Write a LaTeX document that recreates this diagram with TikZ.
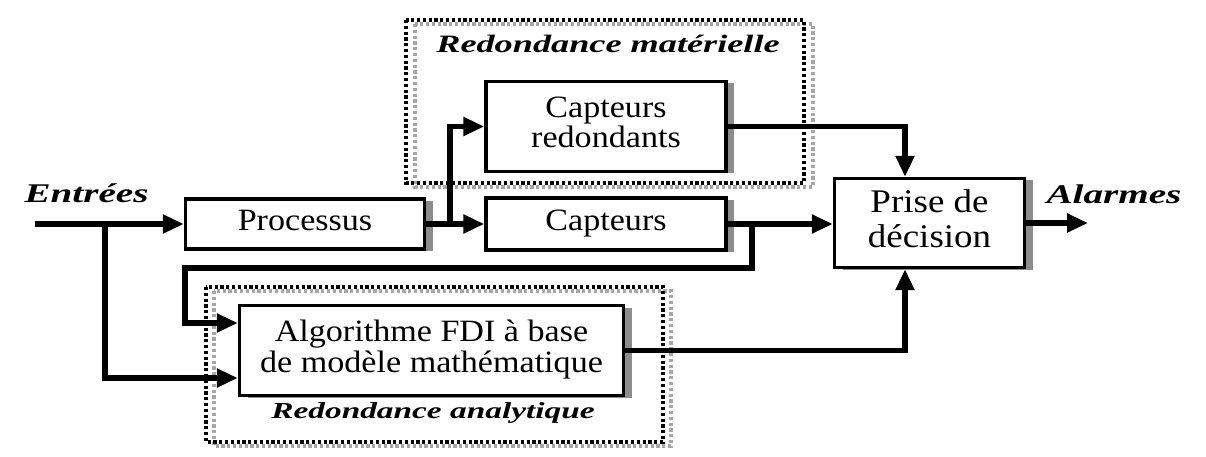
\documentclass[tikz,border=0pt]{standalone}
\usepackage{fontspec}
\setmainfont{Liberation Serif}
\usetikzlibrary{arrows.meta,shadows,calc}

% text inside the blocks (slightly widened serif)
\newcommand{\btxt}[2][30]{\fontsize{31}{#1}\selectfont\scalebox{1.1}[1]{\begin{tabular}{@{}c@{}}#2\end{tabular}}}
% bold italic, widened captions
\newcommand{\lbl}[2]{\fontsize{#1}{#1}\selectfont\bfseries\itshape\scalebox{1.45}[1]{#2}}

\tikzset{
  block/.style={draw, line width=3.4pt, fill=white, inner sep=0pt,
    drop shadow={shadow xshift=8pt, shadow yshift=-2pt, fill=black!45, opacity=1}},
  flow/.style={line width=5.5pt, line cap=butt, line join=miter,
    -{Triangle[length=21pt, width=18pt]}},
  groupbox/.style={line width=3.2pt, dash pattern=on 3.2pt off 2.6pt},
  groupshade/.style={groupbox, draw=black!35},
}

\begin{document}
\begin{tikzpicture}[x=1pt, y=-1pt]
\useasboundingbox (0,0) rectangle (1206,457);

% redundancy groups (dotted frames with a light offset copy)
\draw[groupshade] (415,24) rectangle (813,187);
\draw[groupbox] (406,20) rectangle (804,183);
\draw[groupshade] (214,291) rectangle (671,446);
\draw[groupbox] (206,287) rectangle (663,442);

\node[anchor=base] (tmat) at (608,53) {\lbl{25}{Redondance matérielle}};
\node[anchor=base] (tana) at (433,418) {\lbl{23}{Redondance analytique}};

% blocks
\node[block, minimum width=239pt, minimum height=50pt] (proc) at (305,224) {\btxt{Processus}};
\node[block, minimum width=240pt, minimum height=52pt] (capt) at (606,224) {\btxt{Capteurs}};
\node[block, minimum width=240pt, minimum height=90pt] (captr) at (606,126.5) {\btxt[29]{Capteurs\\redondants}};
\node[block, minimum width=190pt, minimum height=89pt] (prise) at (929.5,223) {\fontsize{33}{35}\selectfont\scalebox{1.12}[1]{\begin{tabular}{@{}c@{}}Prise de\\décision\end{tabular}}};
\node[block, minimum width=384pt, minimum height=90pt] (algo) at (431.5,350.5) {\btxt{Algorithme FDI à base\\de modèle mathématique}};

% inputs and outputs
\node[anchor=base west] (tin) at (21,202) {\lbl{27}{Entrées}};
\node[anchor=base west] (tout) at (1043,203) {\lbl{27}{Alarmes}};

\coordinate (ein) at (35,224);
\coordinate (eb) at (105,224);
\coordinate (pb) at (450,224);
\coordinate (cb) at (752,224);
\coordinate (fb1) at (752,268);
\coordinate (fb2) at (185,268);
\coordinate (aout) at (1088,223);

% connectors
\draw[flow] (ein) -- (ein -| proc.west);
\draw[flow] (eb) |- ([yshift=-27.5pt]algo.west);
\draw[flow] (proc.east) -- (capt.west);
\draw[flow] (pb) |- (captr.west);
\draw[flow] (captr.east) -| ([xshift=-24.5pt]prise.north);
\draw[flow] (capt.east) -- (capt.east -| prise.west);
\draw[flow] (cb) -- (fb1) -- (fb2) |- ([yshift=27.5pt]algo.west);
\draw[flow] (algo.east) -| ([xshift=-24.5pt]prise.south);
\draw[flow] (prise.east) -- (aout);
\end{tikzpicture}
\end{document}
